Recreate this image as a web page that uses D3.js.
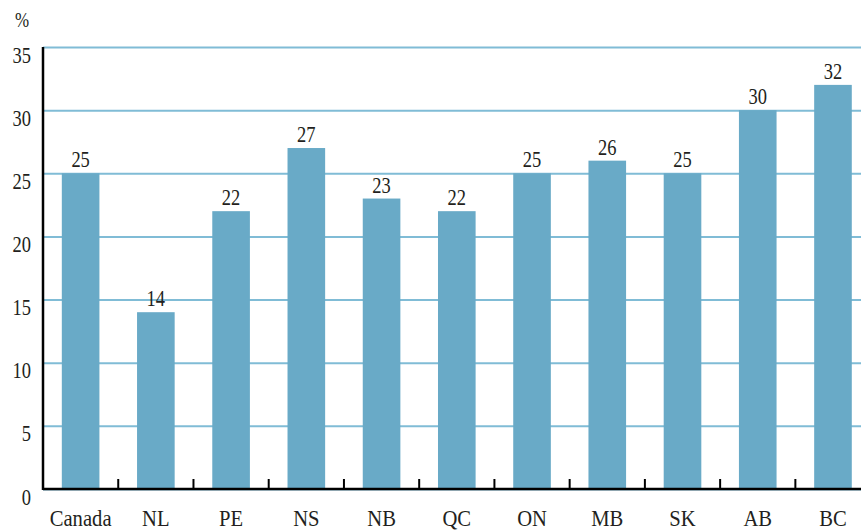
<!DOCTYPE html>
<html>
<head>
<meta charset="utf-8">
<script src="https://cdn.jsdelivr.net/npm/d3@7"></script>
<style>
  body { margin: 0; background: #fff; }
  text { font-family: "Liberation Serif", serif; fill: #231f20; }
</style>
</head>
<body>
<svg id="chart" width="861" height="531"></svg>
<script>
const regions = ["Canada", "NL", "PE", "NS", "NB", "QC", "ON", "MB", "SK", "AB", "BC"];
const shares = [25, 14, 22, 27, 23, 22, 25, 26, 25, 30, 32];
const yTicks = [0, 5, 10, 15, 20, 25, 30, 35];

let svg = d3.select("#chart");
let width = 861, height = 531;
let margin = { top: 47, bottom: 42, left: 43, right: 0 };
let innerHeight = height - margin.top - margin.bottom;
let fontSize = 24, digitSqueeze = 0.77, wordSqueeze = 0.86;

let xScale = d3.scaleBand()
    .domain(regions)
    .range([margin.left, 870.6])
    .paddingInner(0.5)
    .paddingOuter(0.25);

let yScale = d3.scaleLinear()
    .domain([0, 35])
    .range([margin.top + innerHeight, margin.top]);

// gridlines + y labels
let yAxis = svg.append("g")
    .attr("transform", `translate(${margin.left},0)`)
    .call(d3.axisLeft(yScale).tickValues(yTicks).tickSize(-(width - margin.left)).tickFormat(d3.format("d")));
yAxis.select(".domain").remove();
yAxis.selectAll(".tick line")
    .attr("stroke", "#80bcd6")
    .attr("stroke-width", 2);
yAxis.selectAll(".tick text")
    .attr("x", null).attr("dy", null)
    .attr("text-anchor", "end")
    .attr("font-size", fontSize)
    .attr("transform", `translate(-12,15) scale(${digitSqueeze},1)`)
    .style("font-family", "Liberation Serif")
    .style("fill", "#231f20");

// bars
svg.append("g").selectAll("rect")
    .data(regions)
    .enter()
    .append("rect")
    .attr("x", d => xScale(d))
    .attr("y", (d, i) => yScale(shares[i]))
    .attr("width", xScale.bandwidth())
    .attr("height", (d, i) => yScale(0) - yScale(shares[i]))
    .attr("fill", "#69aac7");

// value labels
svg.append("g").selectAll("text")
    .data(regions)
    .enter()
    .append("text")
    .attr("text-anchor", "middle")
    .attr("font-size", fontSize)
    .attr("transform", (d, i) => `translate(${xScale(d) + xScale.bandwidth() / 2},${yScale(shares[i]) - 6}) scale(${digitSqueeze},1)`)
    .text((d, i) => shares[i]);

// x axis line and ticks between bars
let y0 = yScale(0);
svg.append("line")
    .attr("x1", margin.left).attr("x2", width)
    .attr("y1", y0).attr("y2", y0)
    .attr("stroke", "#000").attr("stroke-width", 2.5);

svg.append("g").selectAll("line")
    .data(regions.slice(1))
    .enter()
    .append("line")
    .attr("x1", d => xScale(d) - xScale.step() * 0.25)
    .attr("x2", d => xScale(d) - xScale.step() * 0.25)
    .attr("y1", y0 - 10).attr("y2", y0)
    .attr("stroke", "#000").attr("stroke-width", 2);

// y axis line
svg.append("line")
    .attr("x1", margin.left).attr("x2", margin.left)
    .attr("y1", margin.top).attr("y2", y0 + 1)
    .attr("stroke", "#000").attr("stroke-width", 2.5);

// category labels
svg.append("g").selectAll("text")
    .data(regions)
    .enter()
    .append("text")
    .attr("text-anchor", "middle")
    .attr("font-size", fontSize)
    .attr("transform", d => `translate(${xScale(d) + xScale.bandwidth() / 2},526) scale(${wordSqueeze},1)`)
    .text(d => d);

// unit label
svg.append("text")
    .attr("text-anchor", "middle")
    .attr("font-size", 22)
    .attr("transform", `translate(22,27) scale(${digitSqueeze},1)`)
    .text("%");
</script>
</body>
</html>
